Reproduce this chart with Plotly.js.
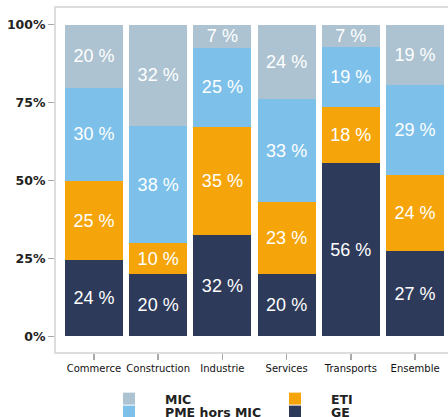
<!DOCTYPE html>
<html>
<head>
<meta charset="utf-8">
<script src="https://cdn.plot.ly/plotly-3.0.1.min.js"></script>
<style>
html, body { margin: 0; padding: 0; overflow: hidden; width: 448px; height: 417px; background: #fff; }
#chart { width: 460px; height: 417px; }
</style>
</head>
<body>
<div id="chart"></div>
<script>
var categories = ["Commerce", "Construction", "Industrie", "Services", "Transports", "Ensemble"];
var ge  = [24.4, 19.9, 32.4, 20.0, 55.6, 27.3];
var eti = [25.4,  9.9, 34.8, 23.1, 17.9, 24.4];
var pme = [29.9, 37.8, 25.4, 32.9, 19.2, 29.0];
var mic = [20.3, 32.4,  7.4, 24.0,  7.3, 19.3];
var yTicks = [0, 25, 50, 75, 100];
var yTickLabels = ["0%", "25%", "50%", "75%", "100%"];

var colors = { GE: "#2e3a59", ETI: "#f5a50a", PME: "#7dc1ea", MIC: "#adc3d1" };

function series(name, values, color, legendId, rank) {
  return {
    type: "bar",
    name: name,
    x: categories,
    y: values,
    marker: { color: color, line: { width: 0 } },
    texttemplate: "%{y:.0f} %",
    textposition: "inside",
    insidetextanchor: "middle",
    textangle: 0,
    constraintext: "none",
    textfont: { color: "#ffffff", size: 18, family: "Liberation Sans, Arial, sans-serif" },
    hoverinfo: "skip",
    legend: legendId,
    legendrank: rank
  };
}

var data = [
  series("GE", ge, colors.GE, "legend2", 2),
  series("ETI", eti, colors.ETI, "legend", 2),
  series("PME hors MIC", pme, colors.PME, "legend2", 1),
  series("MIC", mic, colors.MIC, "legend", 1)
];

var legendFont = { family: "DejaVu Sans, sans-serif", size: 12.5, color: "#222", weight: "bold" };
function legendCfg(y) {
  return {
    orientation: "h",
    xref: "container", yref: "container",
    x: 93 / 460, xanchor: "left",
    y: y, yanchor: "top",
    traceorder: "normal",
    entrywidth: 89, entrywidthmode: "pixels",
    itemwidth: 62,
    font: legendFont,
    bgcolor: "rgba(0,0,0,0)",
    borderwidth: 0,
    itemclick: false, itemdoubleclick: false
  };
}

var layout = {
  width: 460, height: 417,
  margin: { l: 56, r: 7, t: 8, b: 65 },
  paper_bgcolor: "#ffffff",
  plot_bgcolor: "#ffffff",
  barmode: "stack",
  bargap: 0.1,
  showlegend: true,
  legend: legendCfg(1 - 384 / 417),
  legend2: legendCfg(1 - 397 / 417),
  xaxis: {
    type: "category",
    range: [-0.59, 5.59],
    showline: true, mirror: true, linecolor: "#dddddd", linewidth: 2,
    ticks: "outside", ticklen: 6, tickwidth: 1.5, tickcolor: "#aaaaaa",
    tickfont: { family: "DejaVu Sans, sans-serif", size: 10, color: "#111" },
    showgrid: false, zeroline: false, fixedrange: true
  },
  yaxis: {
    range: [-5, 105.3],
    tickmode: "array",
    tickvals: yTicks,
    ticktext: yTickLabels,
    showline: true, mirror: true, linecolor: "#dddddd", linewidth: 2,
    ticks: "outside", ticklen: 6, tickwidth: 1.5, tickcolor: "#aaaaaa",
    tickfont: { family: "DejaVu Sans, sans-serif", size: 12.5, color: "#222", weight: "bold" },
    showgrid: false, zeroline: false, fixedrange: true
  }
};

Plotly.newPlot("chart", data, layout, { displayModeBar: false, staticPlot: true });
</script>
</body>
</html>
